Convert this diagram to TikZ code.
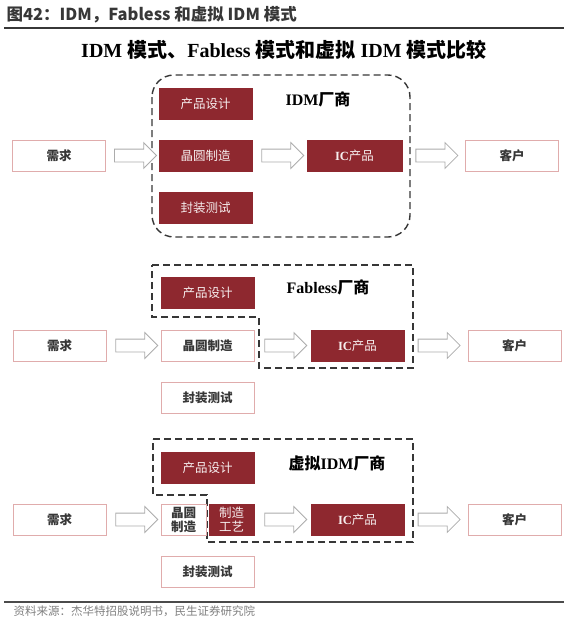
\documentclass[tikz,border=0pt]{standalone}
\usepackage{fontspec}
\setmainfont{Liberation Serif}
\newfontfamily\cjkfont{Noto Sans CJK SC}
\usetikzlibrary{shapes.arrows}

\definecolor{idmred}{RGB}{142,40,47}
\definecolor{idmedge}{RGB}{224,172,172}
\definecolor{idmgray}{RGB}{55,55,55}
\newcommand{\zh}[1]{{\cjkfont #1}}

\tikzset{
  redbox/.style = {fill=idmred, draw=idmred, text=white!92!idmred, minimum width=93pt, minimum height=31pt,
    inner sep=0pt, font=\cjkfont\fontsize{12.5}{14}\selectfont},
  whitebox/.style = {fill=white, draw=idmedge, line width=0.8pt, text=idmgray, minimum width=93pt, minimum height=31pt,
    inner sep=0pt, font=\cjkfont\bfseries\fontsize{12.5}{14}\selectfont},
  flow/.style = {single arrow, draw=gray!65, fill=white, line width=0.8pt, minimum height=42pt,
    inner xsep=0pt, inner ysep=6pt, single arrow head extend=6.5pt},
  vendorline/.style = {draw=idmgray, line width=1.4pt, dash pattern=on 7pt off 4pt},
  vendorlabel/.style = {font=\bfseries\fontsize{16}{18}\selectfont}
}

\begin{document}
\begin{tikzpicture}[x=1pt, y=-1pt]
\useasboundingbox (0, 0) rectangle (564, 619);
%\draw [help lines, step=20pt] (0, 0) grid (564, 619);
\node [anchor=west, text=idmgray, font=\cjkfont\bfseries\fontsize{16.5}{18}\selectfont] (header) at (3, 15) {图42：IDM，Fabless 和虚拟 IDM 模式};
\draw [idmgray, line width=1.5pt] (4, 28) -- (564, 28);
\node [font=\bfseries\fontsize{20}{22}\selectfont] (title) at (284, 50) {IDM \zh{模式、}Fabless \zh{模式和虚拟} IDM \zh{模式比较}};

% IDM
\draw [vendorline, rounded corners=22pt] (152, 75) rectangle (410, 237);
\node [vendorlabel] (vendor1) at (318, 99) {IDM\zh{厂商}};
\node [whitebox] (need1) at (59, 155.5) {需求};
\node [redbox] (design1) at (205.5, 103.5) {产品设计};
\node [redbox] (wafer1) at (205.5, 155.5) {晶圆制造};
\node [redbox] (pack1) at (205.5, 207.5) {封装测试};
\node [redbox, minimum width=95pt] (ic1) at (354.5, 155.5) {{\rmfamily\bfseries IC}产品};
\node [whitebox] (cust1) at (512, 155.5) {客户};
\path (need1.east) -- node [flow] {} (wafer1.west);
\path (wafer1.east) -- node [flow] {} (ic1.west);
\path (ic1.east) -- node [flow] {} (cust1.west);

% Fabless
\draw [vendorline] (152, 265) -- (413, 265) -- (413, 368) -- (259, 368) -- (259, 317) -- (152, 317) -- cycle;
\node [vendorlabel] (vendor2) at (328, 287) {Fabless\zh{厂商}};
\node [whitebox] (need2) at (59.5, 345.5) {需求};
\node [redbox] (design2) at (207.5, 292.5) {产品设计};
\node [whitebox] (wafer2) at (207.5, 345.5) {晶圆制造};
\node [whitebox] (pack2) at (207.5, 397.5) {封装测试};
\node [redbox] (ic2) at (357.5, 345.5) {{\rmfamily\bfseries IC}产品};
\node [whitebox] (cust2) at (514.5, 345.5) {客户};
\path (need2.east) -- node [flow] {} (wafer2.west);
\path (wafer2.east) -- node [flow] {} (ic2.west);
\path (ic2.east) -- node [flow] {} (cust2.west);

% virtual IDM
\draw [vendorline] (153, 439) -- (413, 439) -- (413, 542) -- (207, 542) -- (207, 495) -- (153, 495) -- cycle;
\node [vendorlabel] (vendor3) at (337, 463) {\zh{虚拟}IDM\zh{厂商}};
\node [whitebox] (need3) at (59.5, 519.5) {需求};
\node [redbox] (design3) at (207.5, 467.5) {产品设计};
\node [whitebox, minimum width=45pt, align=center] (wafer3) at (183.5, 519.5) {晶圆\\制造};
\node [redbox, minimum width=45pt, align=center] (craft3) at (231.5, 519.5) {制造\\工艺};
\node [whitebox] (pack3) at (207.5, 571.5) {封装测试};
\node [redbox] (ic3) at (357.5, 519.5) {{\rmfamily\bfseries IC}产品};
\node [whitebox] (cust3) at (514.5, 519.5) {客户};
\path (need3.east) -- node [flow] {} (wafer3.west);
\path (craft3.east) -- node [flow] {} (ic3.west);
\path (ic3.east) -- node [flow] {} (cust3.west);

\draw [idmgray!90, line width=1.5pt] (4, 602) -- (564, 602);
\node [anchor=west, text=gray, font=\cjkfont\fontsize{11.5}{13}\selectfont] (source) at (10, 611.5) {资料来源：杰华特招股说明书，民生证券研究院};
\end{tikzpicture}
\end{document}
